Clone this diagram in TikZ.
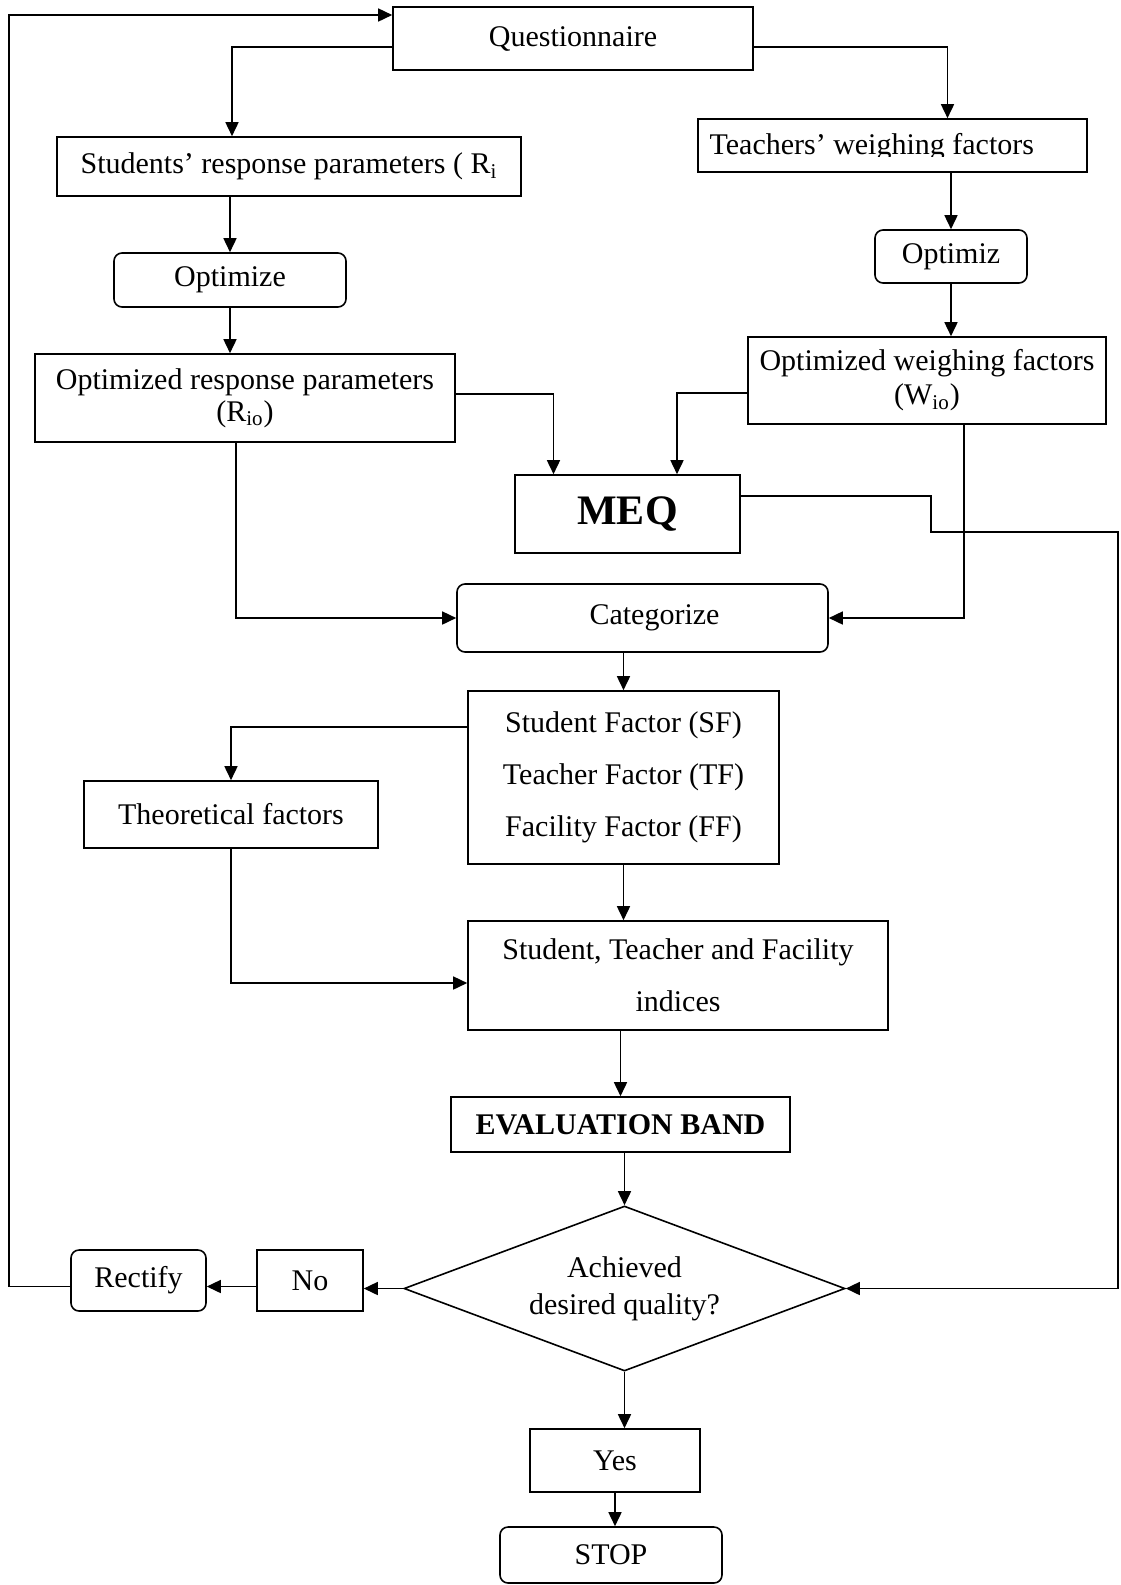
\documentclass[tikz,border=0pt]{standalone}
\usepackage{fontspec}
\setmainfont{Liberation Serif}
\usetikzlibrary{arrows.meta,shapes.geometric}

\begin{document}
\begin{tikzpicture}[x=0.5pt, y=-0.5pt,
        box/.style={draw, line width=0.8pt, inner sep=0pt, align=center, font=\fontsize{15}{17}\selectfont},
        rbox/.style={box, rounded corners=4pt},
        arr/.style={-{Triangle[length=7pt,width=6.5pt]}, line width=0.8pt}]
        \useasboundingbox (0,0) rectangle (1120,1585);

        \node[box, minimum width=180pt, minimum height=31.5pt] (quest) at (573,38.5) {Questionnaire};
        \node[box, minimum width=232pt, minimum height=29.5pt] (stud) at (289,166.5) {Students' response parameters ( R\textsubscript{i}};
        \node[rbox, minimum width=116pt, minimum height=27pt] (opt1) at (230,280) {Optimize};
        \node[box, minimum width=210pt, minimum height=44pt, font=\fontsize{15}{16}\selectfont] (rio) at (245,398) {Optimized response parameters\\(R\textsubscript{io})};
        \node[box, minimum width=194.5pt, minimum height=26.5pt] (teach) at (892.5,145.5) {};
        \begin{scope}
                \clip ([yshift=8pt]teach.south west) rectangle (teach.north east);
                \node[anchor=base west, inner sep=0pt, font=\fontsize{15}{17}\selectfont] (teachtext) at ([xshift=6pt,yshift=9pt]teach.south west) {Teachers' weighing factors};
        \end{scope}
        \node[rbox, minimum width=76pt, minimum height=26.5pt] (opt2) at (951,256.5) {Optimiz};
        \node[box, minimum width=179pt, minimum height=43.5pt] (wio) at (927,380.5) {Optimized weighing factors\\(W\textsubscript{io})};
        \node[box, minimum width=112.5pt, minimum height=39pt, font=\fontsize{21}{24}\selectfont\bfseries] (meq) at (627.5,514) {MEQ};
        \node[rbox, minimum width=185.5pt, minimum height=34pt] (cat) at (642.5,618) {\hspace*{12pt}Categorize};
        \node[box, minimum width=155.5pt, minimum height=86.5pt, font=\fontsize{15}{26}\selectfont] (fac) at (623.5,777.5) {Student Factor (SF)\\Teacher Factor (TF)\\Facility Factor (FF)};
        \node[box, minimum width=147pt, minimum height=33.5pt] (theo) at (231,814.5) {Theoretical factors};
        \node[box, minimum width=210pt, minimum height=54.5pt, font=\fontsize{15}{26}\selectfont] (ind) at (678,975.5) {Student, Teacher and Facility\\indices};
        \node[box, minimum width=169.5pt, minimum height=27.5pt, font=\fontsize{15}{17}\selectfont\bfseries] (eval) at (620.5,1124.5) {EVALUATION BAND};
        \node[box, diamond, aspect=2.67, minimum width=220.5pt, minimum height=82.5pt, font=\fontsize{15}{18.5}\selectfont] (dia) at (624.5,1288.5) {Achieved\\desired quality?};
        \node[box, minimum width=53pt, minimum height=30.5pt] (no) at (310,1280.5) {No};
        \node[rbox, minimum width=67.5pt, minimum height=30.5pt] (rect) at (138.5,1280.5) {Rectify};
        \node[box, minimum width=85pt, minimum height=31.5pt] (yes) at (615,1460.5) {Yes};
        \node[rbox, minimum width=111pt, minimum height=28pt] (stop) at (611,1555) {STOP};

        \coordinate (meqbend) at (931,532);
        \coordinate (rail) at (1118,532);
        \coordinate (retcorner) at (9,15);

        \draw[arr] ([yshift=-4.25pt]quest.west) -| ([xshift=-28.5pt]stud.north);
        \draw[arr] ([yshift=-4.25pt]quest.east) -| ([xshift=27.5pt]teach.north);
        \draw[arr] (opt1.north |- stud.south) -- (opt1.north);
        \draw[arr] (opt1.south) -- (opt1.south |- rio.north);
        \draw[arr] (opt2.north |- teach.south) -- (opt2.north);
        \draw[arr] (opt2.south) -- (opt2.south |- wio.north);
        \draw[arr] ([yshift=2pt]rio.east) -| ([xshift=-37pt]meq.north);
        \draw[arr] ([yshift=-6.25pt]wio.west) -| ([xshift=24.75pt]meq.north);
        \draw[arr] ([xshift=-4.5pt]rio.south) |- (cat.west);
        \draw[arr] ([xshift=18.5pt]wio.south) |- (cat.east);
        \draw[arr] ([yshift=9pt]meq.east) -| (meqbend) -- (rail) |- (dia.east);
        \draw[arr] (fac.north |- cat.south) -- (fac.north);
        \draw[arr] ([yshift=25.25pt]fac.west) -| (theo.north);
        \draw[arr] (theo.south) |- ([yshift=-3.75pt]ind.west);
        \draw[arr] (fac.south) -- (fac.south |- ind.north);
        \draw[arr] (eval.north |- ind.south) -- (eval.north);
        \draw[arr] (dia.north |- eval.south) -- (dia.north);
        \draw[arr] (dia.west) -- (dia.west -| no.east);
        \draw[arr] ([yshift=-3pt]no.west) -- ([yshift=-3pt]rect.east);
        \draw[arr] ([yshift=-3pt]rect.west) -| (retcorner) -- ([yshift=11.75pt]quest.west);
        \draw[arr] (dia.south) -- (dia.south |- yes.north);
        \draw[arr] (yes.south) -- (yes.south |- stop.north);
\end{tikzpicture}
\end{document}
